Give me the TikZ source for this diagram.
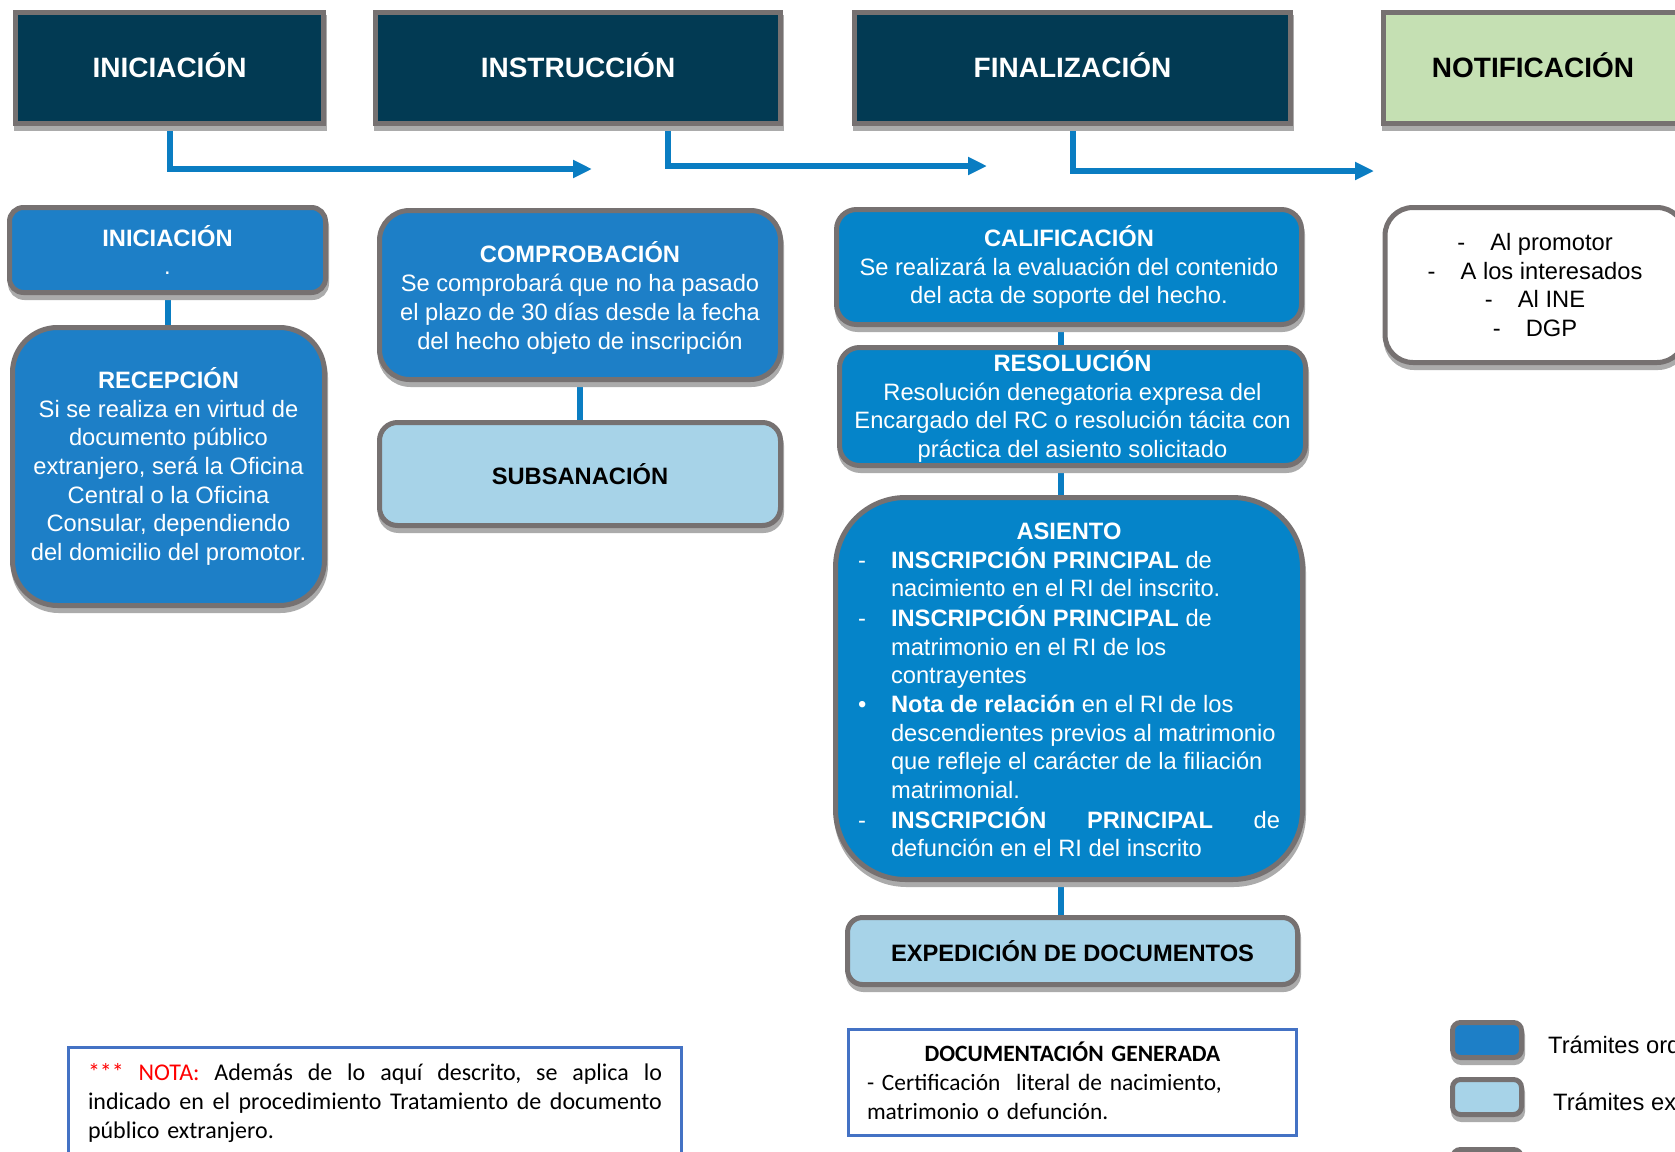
\documentclass[tikz,border=0pt]{standalone}
\usepackage{fontspec}
\setmainfont{Liberation Sans}
\newfontfamily\calibri{Carlito}
\usetikzlibrary{arrows.meta,backgrounds}
\definecolor{navy}{HTML}{023A53}
\definecolor{bordergray}{HTML}{767171}
\definecolor{shadowgray}{HTML}{ABABAB}
\definecolor{blueA}{HTML}{1D7FC7}
\definecolor{blueB}{HTML}{0584C9}
\definecolor{lightblue}{HTML}{A7D3E8}
\definecolor{lightgreen}{HTML}{C5E0B3}
\definecolor{arrowblue}{HTML}{0A7DC2}
\definecolor{noteblue}{HTML}{4472C4}
\newcommand\jsp{\hskip 0.226em plus 1fil\relax}
\tikzset{
  base/.style={draw=bordergray, line width=5pt, inner sep=0pt, align=center,
    font=\fontsize{23.7}{28.7}\selectfont,
    preaction={draw=shadowgray, fill=shadowgray, line width=5pt,
      transform canvas={shift={(1pt,-5pt)}}}},
  header/.style={base, rectangle, fill=navy, text=white, text depth=6pt,
    font=\fontsize{28}{34}\selectfont\bfseries, minimum height=111pt},
  rbox/.style={base, rectangle, rounded corners=#1},
  conn/.style={draw=arrowblue, line width=6pt},
  arrowline/.style={conn, -{Triangle[length=19pt,width=17pt]}},
  framebox/.style={draw=noteblue, line width=3pt, fill=white,
    font=\calibri\fontsize{24}{29}\selectfont},
  legendtext/.style={anchor=west, inner sep=0pt, font=\fontsize{23.7}{28.7}\selectfont}
}
\begin{document}
\begin{tikzpicture}[x=1pt,y=-1pt]
\useasboundingbox (0,0) rectangle (1675,1151);
\clip (0,0) rectangle (1675,1151);

% headers
\node[header, minimum width=308pt] (h1) at (169.5,68) {INICIACIÓN};
\node[header, minimum width=405pt] (h2) at (578,68) {INSTRUCCIÓN};
\node[header, minimum width=436pt] (h3) at (1072.5,68) {FINALIZACIÓN};
\node[header, fill=lightgreen, text=black, minimum width=299pt] (h4) at (1533,68) {NOTIFICACIÓN};

% column 1
\node[rbox=14pt, fill=blueA, text=white, minimum width=316pt, minimum height=85pt] (b1) at (167.5,250)
  {\textbf{INICIACIÓN}\\.};
\node[rbox=45pt, fill=blueA, text=white, minimum width=312pt, minimum height=278pt] (b2) at (168.5,466.5)
  {\textbf{RECEPCIÓN}\\Si se realiza en virtud de\\documento público\\extranjero, será la Oficina\\Central o la Oficina\\Consular, dependiendo\\del domicilio del promotor.};

% column 2
\node[rbox=30pt, fill=blueA, text=white, minimum width=401pt, minimum height=169pt] (b3) at (580,295)
  {\rule{0pt}{27pt}\textbf{COMPROBACIÓN}\\Se comprobará que no ha pasado\\el plazo de 30 días desde la fecha\\del hecho objeto de inscripción};
\node[rbox=18pt, fill=lightblue, text=black, minimum width=401pt, minimum height=103pt] (b4) at (580,474)
  {\textbf{SUBSANACIÓN}};

% column 3
\node[rbox=20pt, fill=blueB, text=white, minimum width=465pt, minimum height=115pt] (b5) at (1069,267)
  {\textbf{CALIFICACIÓN}\\Se realizará la evaluación del contenido\\del acta de soporte del hecho.};
\node[rbox=20pt, fill=blueB, text=white, minimum width=466pt, minimum height=118pt] (b6) at (1072.5,406.5)
  {\textbf{RESOLUCIÓN}\\Resolución denegatoria expresa del\\Encargado del RC o resolución tácita con\\práctica del asiento solicitado};
\node[rbox=70pt, fill=blueB, text=white, minimum width=467pt, minimum height=382pt] (b7) at (1069,688.5)
  {\rule{0pt}{28pt}\textbf{ASIENTO}\\
   \begin{tabular}[t]{@{}p{33pt}@{}l@{}}
   -&\textbf{INSCRIPCIÓN PRINCIPAL} de\\
    &nacimiento en el RI del inscrito.\\
   -&\textbf{INSCRIPCIÓN PRINCIPAL} de\\
    &matrimonio en el RI de los\\
    &contrayentes\\
   •&\textbf{Nota de relación} en el RI de los\\
    &descendientes previos al matrimonio\\
    &que refleje el carácter de la filiación\\
    &matrimonial.\\
   -&\hbox to 389pt{\textbf{INSCRIPCIÓN}\hfill\textbf{PRINCIPAL}\hfill de}\\
    &defunción en el RI del inscrito
   \end{tabular}};
\node[rbox=15pt, fill=lightblue, text=black, minimum width=450pt, minimum height=67pt] (b8) at (1072.5,951)
  {\textbf{EXPEDICIÓN DE DOCUMENTOS}};

% column 4
\node[rbox=28pt, fill=white, text=black, minimum width=300pt, minimum height=155pt] (b9) at (1535,285)
  {\makebox[33pt][l]{-}Al promotor\\\makebox[33pt][l]{-}A los interesados\\\makebox[33pt][l]{-}Al INE\\\makebox[33pt][l]{-}DGP};

% documentation boxes
\node[framebox, anchor=north, inner xsep=19.5pt, inner ysep=16pt, text width=574pt, align=left, text depth=100pt] (nota) at (375,1045.5)
  {\leavevmode\hbox to 574pt{\textcolor{red}{***}\jsp\textcolor{red}{NOTA:}\jsp Además\jsp de\jsp lo\jsp aquí\jsp descrito,\jsp se\jsp aplica\jsp lo}\\
   \leavevmode\hbox to 574pt{indicado\jsp en\jsp el\jsp procedimiento\jsp Tratamiento\jsp de\jsp documento}\\
   público extranjero.};
\node[framebox, minimum width=448pt, minimum height=106pt, text width=411pt, align=left, inner sep=0pt,
      font=\calibri\fontsize{23.4}{29}\selectfont] (docgen) at (1072.5,1082.5)
  {\makebox[411pt]{\bfseries DOCUMENTACIÓN GENERADA}\\- Certificación\ \ literal de nacimiento,\\matrimonio o defunción.\rule[-4.5pt]{0pt}{0pt}};

% legend
\node[rbox=8pt, fill=blueA, minimum width=69pt, minimum height=35pt] (l1) at (1487,1040) {};
\node[rbox=8pt, fill=lightblue, minimum width=69pt, minimum height=35pt] (l2) at (1487,1097) {};
\node[rbox=8pt, fill=lightgreen, minimum width=69pt, minimum height=35pt] (l3) at (1487,1167) {};
\node[legendtext] (t1) at (1548,1045) {Trámites ord};
\node[legendtext] (t2) at (1553,1102) {Trámites ex};

% connectors
\begin{pgfonlayer}{background}
\fill[white] (0,0) rectangle (1675,1151);
\coordinate (a1) at (592,169);
\coordinate (a2x) at (668,0);
\coordinate (a2) at (987,166);
\coordinate (a3) at (1374,171);
\coordinate (cx1) at (168,0);
\coordinate (cx3) at (1061,0);
\draw[arrowline] (h1.south) |- (a1);
\draw[arrowline] (h2.south -| a2x) |- (a2);
\draw[arrowline] (h3.south) |- (a3);
\draw[conn] (b1.south -| cx1) -- (b2.north -| cx1);
\draw[conn] (b3.south) -- (b4.north);
\draw[conn] (b5.south -| cx3) -- (b6.north -| cx3);
\draw[conn] (b6.south -| cx3) -- (b7.north -| cx3);
\draw[conn] (b7.south -| cx3) -- (b8.north -| cx3);
\end{pgfonlayer}
\end{tikzpicture}
\end{document}
